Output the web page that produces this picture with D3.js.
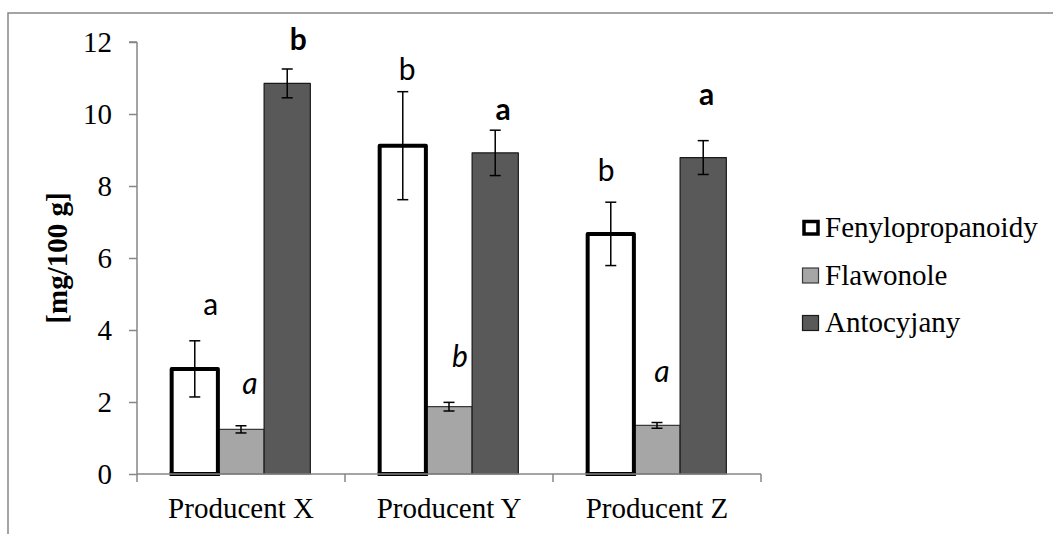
<!DOCTYPE html>
<html>
<head>
<meta charset="utf-8">
<script src="https://cdn.jsdelivr.net/npm/d3@7"></script>
<style>
  html, body { margin: 0; padding: 0; background: #fff; }
  svg { display: block; }
</style>
</head>
<body>
<svg id="chart" width="1053" height="534"></svg>
<script>
// Producers and measured compound groups
const producers = ["Producent X", "Producent Y", "Producent Z"];
const seriesNames = ["Fenylopropanoidy", "Flawonole", "Antocyjany"];

// Mean content [mg/100 g], one array per series (X, Y, Z)
const fenylopropanoidy = [2.92, 9.12, 6.67];
const flawonole = [1.24, 1.87, 1.35];
const antocyjany = [10.85, 8.92, 8.79];

// Standard deviations (error bars)
const fenylopropanoidySd = [0.78, 1.50, 0.88];
const flawonoleSd = [0.10, 0.12, 0.08];
const antocyjanySd = [0.40, 0.63, 0.47];

// Homogeneous-group letters
const fenylopropanoidyLetters = ["a", "b", "b"];
const flawonoleLetters = ["a", "b", "a"];
const antocyjanyLetters = ["b", "a", "a"];

const yTicks = [0, 2, 4, 6, 8, 10, 12];

const seriesValues = [fenylopropanoidy, flawonole, antocyjany];
const seriesSd = [fenylopropanoidySd, flawonoleSd, antocyjanySd];
const seriesLetters = [fenylopropanoidyLetters, flawonoleLetters, antocyjanyLetters];

// Appearance of each series
const seriesStyle = [
  { fill: "#ffffff", stroke: "#000000", width: 4 },
  { fill: "#a6a6a6", stroke: "#3a3a3a", width: 1.2 },
  { fill: "#595959", stroke: "#1a1a1a", width: 1.2 }
];
const letterStyle = [
  { weight: "normal", style: "normal" },
  { weight: "normal", style: "italic" },
  { weight: "bold", style: "normal" }
];
// Hand placement of letters: [dx from bar centre, px gap above whisker top to baseline]
const letterNudge = [
  [[16, 26], [9, 32], [11, 19]],
  [[4.5, 12], [11, 35], [8, 10]],
  [[-4.5, 21], [5, 41], [3.5, 36]]
];

const svg = d3.select("#chart");
const axisColor = "#868686";
const serif = "'Liberation Serif', 'Times New Roman', serif";
const sans = "Lato, 'Open Sans', sans-serif";

// outer frame
svg.append("rect")
  .attr("x", 8).attr("y", 13).attr("width", 1200).attr("height", 700)
  .attr("fill", "none").attr("stroke", axisColor).attr("stroke-width", 1.5);

const plot = { left: 137, right: 761, top: 42, bottom: 474 };

const y = d3.scaleLinear().domain([0, 12]).range([plot.bottom, plot.top]);
const x0 = d3.scaleBand().domain(producers).range([plot.left, plot.right])
  .paddingInner(0).paddingOuter(0);
const x1 = d3.scaleBand().domain(d3.range(seriesNames.length))
  .range([0, x0.bandwidth()]).paddingInner(0).paddingOuter(0.75);

// Y axis
const yAxis = svg.append("g")
  .attr("transform", `translate(${plot.left},0)`)
  .call(d3.axisLeft(y).tickValues(yTicks).tickSize(8).tickPadding(17).tickFormat(d3.format("d")));
yAxis.select(".domain").attr("stroke", axisColor).attr("stroke-width", 1.5)
  .attr("d", `M0,${plot.top}H-8M0,${plot.top}V${plot.bottom}`);
yAxis.selectAll(".tick line").attr("stroke", axisColor).attr("stroke-width", 1.5);
yAxis.selectAll(".tick text").attr("font-family", serif).attr("font-size", 29)
  .attr("fill", "#000").attr("dy", "0.34em");

// Bars
const groups = svg.append("g").selectAll("g")
  .data(producers).join("g")
  .attr("transform", d => `translate(${x0(d)},0)`);

const barData = (p, pi) => seriesNames.map((s, si) => ({
  si, pi, v: seriesValues[si][pi], sd: seriesSd[si][pi], letter: seriesLetters[si][pi]
}));

// draw thin-stroked bars first so the heavy outline sits on top
groups.each(function (p, pi) {
  const g = d3.select(this);
  const data = barData(p, pi).sort((a, b) => seriesStyle[a.si].width - seriesStyle[b.si].width);
  g.selectAll("rect.bar").data(data).join("rect")
    .attr("class", "bar")
    .attr("x", d => x1(d.si))
    .attr("y", d => y(d.v))
    .attr("width", x1.bandwidth())
    .attr("height", d => y(0) - y(d.v))
    .attr("fill", d => seriesStyle[d.si].fill)
    .attr("stroke", d => seriesStyle[d.si].stroke)
    .attr("stroke-width", d => seriesStyle[d.si].width)
    .attr("stroke-linejoin", "round");
});

// X axis
const xAxis = svg.append("g")
  .attr("transform", `translate(0,${plot.bottom})`);
xAxis.append("path")
  .attr("d", `M${plot.left},0H${plot.right}`)
  .attr("stroke", axisColor).attr("stroke-width", 1.5).attr("fill", "none");
const catEdges = producers.map(p => x0(p)).concat([plot.right]);
xAxis.selectAll("line.tick").data(catEdges).join("line")
  .attr("class", "tick")
  .attr("x1", d => d).attr("x2", d => d)
  .attr("y1", 0).attr("y2", 8)
  .attr("stroke", axisColor).attr("stroke-width", 1.5);
xAxis.selectAll("text").data(producers).join("text")
  .attr("x", d => x0(d) + x0.bandwidth() / 2)
  .attr("y", 44)
  .attr("text-anchor", "middle")
  .attr("font-family", serif).attr("font-size", 29)
  .text(d => d);

// redraw the heavy white bars' bottom edge above the axis line
groups.each(function (p, pi) {
  const g = d3.select(this);
  g.append("line")
    .attr("x1", x1(0) - 2).attr("x2", x1(0) + x1.bandwidth() + 2)
    .attr("y1", y(0)).attr("y2", y(0))
    .attr("stroke", "#000").attr("stroke-width", 4);
});

// Error bars and letters
groups.each(function (p, pi) {
  const g = d3.select(this);
  const data = barData(p, pi);
  const cap = 5.5;
  data.forEach(d => {
    const cx = x1(d.si) + x1.bandwidth() / 2;
    const top = y(d.v + d.sd), bot = y(d.v - d.sd);
    const eb = g.append("g").attr("stroke", "#000").attr("stroke-width", 1.5);
    eb.append("line").attr("x1", cx).attr("x2", cx).attr("y1", top).attr("y2", bot);
    eb.append("line").attr("x1", cx - cap).attr("x2", cx + cap).attr("y1", top).attr("y2", top);
    eb.append("line").attr("x1", cx - cap).attr("x2", cx + cap).attr("y1", bot).attr("y2", bot);
    const [dx, gap] = letterNudge[pi][d.si];
    g.append("text")
      .attr("x", cx + dx).attr("y", top - gap)
      .attr("text-anchor", "middle")
      .attr("font-family", sans).attr("font-size", 30)
      .attr("font-weight", letterStyle[d.si].weight)
      .attr("font-style", letterStyle[d.si].style)
      .text(d.letter);
  });
});

// Y axis title
svg.append("text")
  .attr("transform", `translate(67,${(plot.top + plot.bottom) / 2}) rotate(-90)`)
  .attr("text-anchor", "middle")
  .attr("font-family", serif).attr("font-size", 29).attr("font-weight", "bold")
  .text("[mg/100 g]");

// Legend
const legend = svg.append("g").attr("transform", "translate(802,237)");
const rows = legend.selectAll("g").data(seriesNames).join("g")
  .attr("transform", (d, i) => `translate(0,${i * 47.5})`);
rows.append("rect")
  .attr("x", d => seriesStyle[seriesNames.indexOf(d)].width > 2 ? 2 : 0.5)
  .attr("y", d => seriesStyle[seriesNames.indexOf(d)].width > 2 ? -15.5 : -16.5)
  .attr("width", d => seriesStyle[seriesNames.indexOf(d)].width > 2 ? 14 : 16)
  .attr("height", d => seriesStyle[seriesNames.indexOf(d)].width > 2 ? 12.5 : 15)
  .attr("fill", d => seriesStyle[seriesNames.indexOf(d)].fill)
  .attr("stroke", d => seriesStyle[seriesNames.indexOf(d)].stroke)
  .attr("stroke-width", d => Math.min(seriesStyle[seriesNames.indexOf(d)].width, 3.5));
rows.append("text")
  .attr("x", 23).attr("y", 0)
  .attr("font-family", serif).attr("font-size", 29)
  .text(d => d);
</script>
</body>
</html>
